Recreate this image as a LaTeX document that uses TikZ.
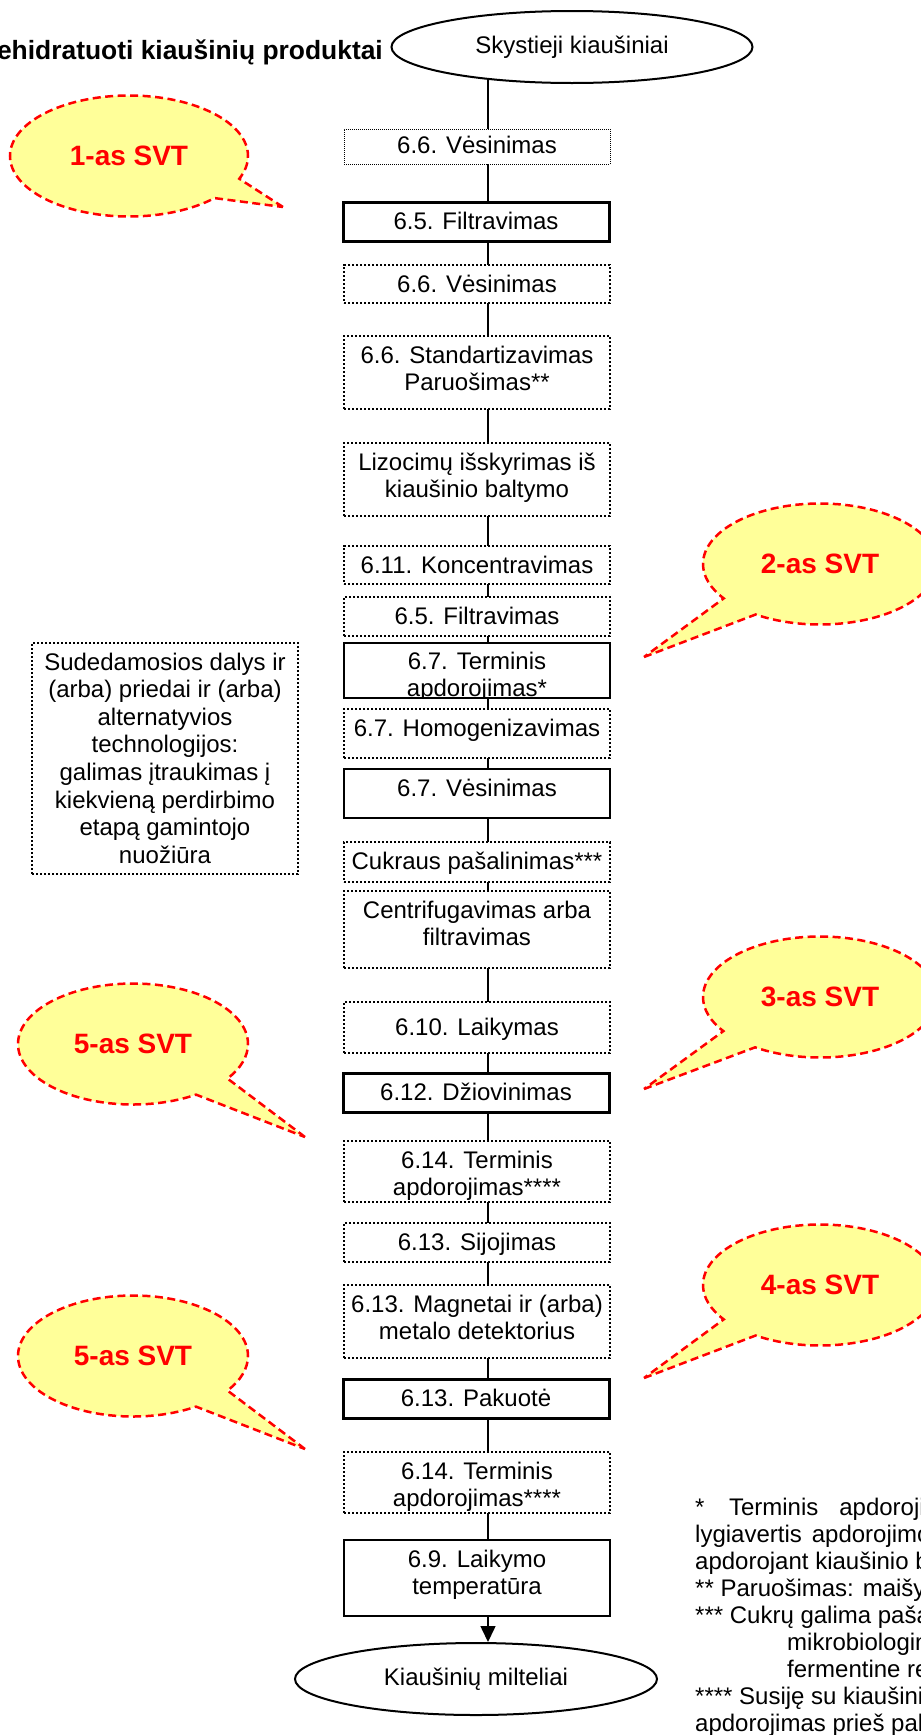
\documentclass[tikz,border=0pt]{standalone}
\usepackage{fontspec}
\setmainfont{Liberation Sans}
\usetikzlibrary{shapes.geometric,shapes.callouts,arrows.meta}
\pgfdeclarelayer{background}
\pgfsetlayers{background,main}
\definecolor{svtfill}{RGB}{255,255,153}
\definecolor{svtred}{RGB}{255,0,0}
\tikzset{
  boxbase/.style={rectangle, minimum width=266pt, inner sep=0pt, outer sep=0pt, fill=white},
  dotbox/.style={boxbase, draw, line width=2.3pt, dash pattern=on 2.3pt off 1.7pt},
  finedotbox/.style={boxbase, draw, line width=1pt, dash pattern=on 1pt off 1pt},
  thinbox/.style={boxbase, draw, line width=1.4pt},
  thickbox/.style={boxbase, draw, line width=3pt},
  midbox/.style={boxbase, draw, line width=2.5pt},
  txt/.style={inner sep=0pt, anchor=base, align=center, font=\fontsize{24}{27.6}\selectfont},
  term/.style={ellipse, draw, line width=2pt, minimum width=361pt, minimum height=72pt, inner sep=0pt, fill=white, font=\fontsize{24}{27.6}\selectfont},
  svt/.style={ellipse callout, draw=svtred, fill=svtfill, line width=2.5pt, dash pattern=on 8pt off 4.5pt, callout pointer arc=22, minimum height=121pt, inner sep=0pt, text=svtred, font=\fontsize{28}{32}\selectfont\bfseries},
  link/.style={line width=1.5pt},
  note/.style={inner sep=0pt, anchor=base west, font=\fontsize{24}{27.6}\selectfont},
}
\begin{document}
\begin{tikzpicture}[x=1pt,y=-1pt]
\useasboundingbox (0,0) rectangle (921,1735);
\clip (0,0) rectangle (921,1735);
\coordinate (X) at (488,0);

% title
\node[inner sep=0pt, anchor=base east, font=\fontsize{26.4}{30}\selectfont\bfseries] (title) at (383,59) {Dehidratuoti kiaušinių produktai};

% terminals
\node[term] (start) at (572,47) {Skystieji kiaušiniai};
\node[term, minimum width=362pt] (end) at (476,1679) {Kiaušinių milteliai};

% main flow boxes (multi-line texts are anchored at the baseline of their last line)
\node[finedotbox, minimum height=35pt] (b1) at (477,146.5) {};
\node[txt] (t1) at (477,153) {6.6. Vėsinimas};
\node[thickbox, minimum height=39pt] (b2) at (476,221.5) {};
\node[txt] (t2) at (476,229) {6.5. Filtravimas};
\node[dotbox, minimum height=38pt] (b3) at (477,284) {};
\node[txt] (t3) at (477,292) {6.6. Vėsinimas};
\node[dotbox, minimum height=73pt] (b4) at (477,372.5) {};
\node[txt] (t4) at (477,390.6) {6.6. Standartizavimas\\Paruošimas**};
\node[dotbox, minimum height=73pt] (b5) at (477,479.5) {};
\node[txt] (t5) at (477,497.6) {Lizocimų išskyrimas iš\\kiaušinio baltymo};
\node[dotbox, minimum height=38pt] (b6) at (477,565) {};
\node[txt] (t6) at (477,573) {6.11. Koncentravimas};
\node[dotbox, minimum height=39pt] (b7) at (477,616.5) {};
\node[txt] (t7) at (477,624) {6.5. Filtravimas};
\node[thinbox, minimum height=55pt] (b8) at (477,670.5) {};
\begin{scope}
  \clip (b8.north west) rectangle (b8.south east);
  \node[txt] (t8) at (477,696.6) {6.7. Terminis\\apdorojimas*};
\end{scope}
\node[dotbox, minimum height=49pt] (b9) at (477,733.5) {};
\node[txt] (t9) at (477,736) {6.7. Homogenizavimas};
\node[thinbox, minimum height=49pt] (b10) at (477,793.5) {};
\node[txt] (t10) at (477,796) {6.7. Vėsinimas};
\node[dotbox, minimum height=40pt] (b11) at (477,862) {};
\node[txt] (t11) at (477,869) {Cukraus pašalinimas***};
\node[dotbox, minimum height=77pt] (b12) at (477,929.5) {};
\node[txt] (t12) at (477,945.6) {Centrifugavimas arba\\filtravimas};
\node[dotbox, minimum height=51pt] (b13) at (477,1027.5) {};
\node[txt] (t13) at (477,1035) {6.10. Laikymas};
\node[thickbox, minimum height=39pt] (b14) at (476,1092.5) {};
\node[txt] (t14) at (476,1100) {6.12. Džiovinimas};
\node[dotbox, minimum height=61pt] (b15) at (477,1171.5) {};
\node[txt] (t15) at (477,1195.6) {6.14. Terminis\\apdorojimas****};
\node[dotbox, minimum height=39pt] (b16) at (477,1242.5) {};
\node[txt] (t16) at (477,1250) {6.13. Sijojimas};
\node[dotbox, minimum height=73pt] (b17) at (477,1321.5) {};
\node[txt] (t17) at (477,1339.6) {6.13. Magnetai ir (arba)\\metalo detektorius};
\node[thickbox, minimum height=39pt] (b18) at (476,1398.5) {};
\node[txt] (t18) at (476,1406) {6.13. Pakuotė};
\node[dotbox, minimum height=61pt] (b19) at (477,1482.5) {};
\node[txt] (t19) at (477,1506.6) {6.14. Terminis\\apdorojimas****};
\node[midbox, minimum height=76pt] (b20) at (477,1578) {};
\node[txt] (t20) at (477,1594.6) {6.9. Laikymo\\temperatūra};

% side box
\node[dotbox, minimum height=231pt] (side) at (165,758.5) {};
\node[txt] (tside) at (165,863.2) {Sudedamosios dalys ir\\(arba) priedai ir (arba)\\alternatyvios\\technologijos:\\galimas įtraukimas į\\kiekvieną perdirbimo\\etapą gamintojo\\nuožiūra};

% connectors
\begin{pgfonlayer}{background}
\foreach \a/\b in {start/b1,b1/b2,b2/b3,b3/b4,b4/b5,b5/b6,b6/b7,b7/b8,b8/b9,b9/b10,b10/b11,b11/b12,b12/b13,b13/b14,b14/b15,b15/b16,b16/b17,b17/b18,b18/b19,b19/b20}
  \draw[link] (X |- \a.center) -- (X |- \b.center);
\end{pgfonlayer}
\draw[link, -{Triangle[length=16pt,width=15pt]}] (X |- b20.south) -- (X |- end.north);

% callouts
\node[svt, minimum width=238pt, callout absolute pointer={(283,207)}] (s1) at (129,156) {1-as SVT\hspace{14pt}};
\node[svt, minimum width=234pt, callout absolute pointer={(644,657)}] (s2) at (820,564) {2-as SVT\hspace{16pt}};
\node[svt, minimum width=234pt, callout absolute pointer={(644,1089)}] (s3) at (820,997) {3-as SVT\hspace{16pt}};
\node[svt, minimum width=234pt, callout absolute pointer={(644,1378)}] (s4) at (820,1285) {4-as SVT\hspace{16pt}};
\node[svt, minimum width=230pt, callout absolute pointer={(305,1137)}] (s5a) at (133,1044) {5-as SVT\hspace{10pt}};
\node[svt, minimum width=230pt, callout absolute pointer={(305,1449)}] (s5b) at (133,1356) {5-as SVT\hspace{10pt}};

% footnotes
\node[note] (n1) at (695,1515) {*\hspace{24.5pt}Terminis\hspace{21pt}apdorojimas\hspace{21pt}arba};
\node[note] (n2) at (695,1542) {lygiavertis\hspace{10pt}apdorojimo būdas};
\node[note] (n3) at (695,1569) {apdorojant kiaušinio baltymą};
\node[note] (n4) at (695,1596) {** Paruošimas: maišymas};
\node[note] (n5) at (695,1623) {*** Cukrų galima pašalinti};
\node[note] (n6) at (787,1650) {mikrobiologine ar};
\node[note] (n7) at (787,1677) {fermentine reakcija};
\node[note] (n8) at (695,1704) {**** Susiję su kiaušinių};
\node[note] (n9) at (695,1731) {apdorojimas prieš pakuojant};
\end{tikzpicture}
\end{document}
